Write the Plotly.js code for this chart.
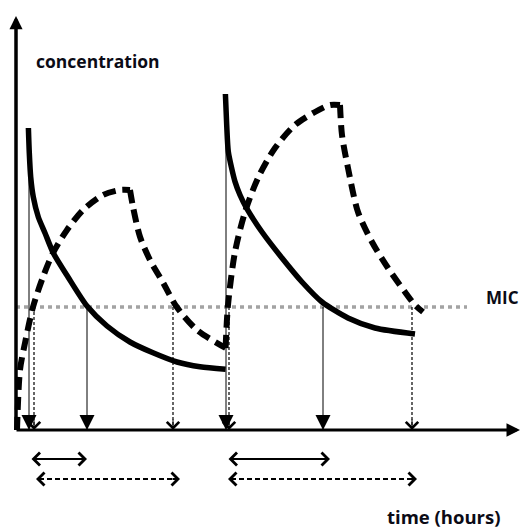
<!DOCTYPE html>
<html>
<head>
<meta charset="utf-8">
<script src="https://cdn.plot.ly/plotly-3.0.1.min.js"></script>
<style>
  html, body { margin: 0; padding: 0; background: #ffffff; }
  #chart { width: 520px; height: 531px; }
</style>
</head>
<body>
<div id="chart"></div>
<script>
// ---- data (time in hours, concentration in arbitrary units) ----
const MIC = 30.75;

// solid curve: first and second dose
const solid1Time = [0.62, 0.665, 0.735, 0.865, 1.115, 1.45, 1.865, 2.6, 3.55, 4.55, 5.7, 6.85, 8.05, 9.2, 10.48];
const solid1Conc = [75.5, 69.25, 63.25, 58.25, 53.25, 49.25, 44.25, 38.25, 31, 26, 22, 19.3, 17, 15.8, 15.2];
const solid2Time = [10.47, 10.535, 10.615, 10.785, 10.95, 11.2, 11.535, 12.3, 13.3, 14.3, 15.3, 16.6, 17.95, 19.95];
const solid2Conc = [84, 76.25, 69.6, 65.4, 62.1, 58.75, 55.4, 49.5, 43, 37, 32, 28, 25.5, 24];

// dashed curve: rise / fall segments
const dashedRise1Time = [0.05, 0.2, 0.45, 0.85, 1.35, 1.85, 2.55, 3.35, 4.35, 5.2, 5.7];
const dashedRise1Conc = [0, 15, 21.75, 30.75, 38.25, 44.25, 50, 55, 58.75, 60, 60];
const dashedFall1Time = [5.7, 5.85, 6.2, 6.7, 7.37, 8.03, 9.05, 10.48];
const dashedFall1Conc = [60, 55.8, 48.3, 42.5, 36.7, 30.8, 25, 20.5];
const dashedRise2Time = [10.48, 10.6, 10.95, 11.45, 12.1, 12.95, 13.95, 14.95, 15.7, 16.2];
const dashedRise2Conc = [20.5, 31.25, 44.5, 54.5, 63, 70.5, 76.25, 79.5, 81.25, 81.25];
const dashedFall2Time = [16.2, 16.3, 16.6, 17.1, 17.8, 18.6, 19.45, 19.95, 20.35];
const dashedFall2Conc = [81.25, 73.75, 65.5, 54.5, 47, 40.5, 34.5, 31.25, 29.5];

// MIC line extent
const micStart = 0;
const micEnd = 22.55;

// vertical drop arrows (solid thin / dotted)
const solidArrowTime = [0.65, 3.55, 10.5, 15.35];
const solidArrowTop = [75.5, 30.75, 84, 30.75];
const dottedArrowTime = [0.9, 7.85, 10.65, 19.8];

// time-above-MIC spans (double arrows under the axis)
const solidSpanStart = [0.7, 10.55];
const solidSpanEnd = [3.55, 15.7];
const dashedSpanStart = [1.0, 10.6];
const dashedSpanEnd = [8.2, 20.05];

// axis extents
const timeAxisEnd = 25.2;
const concAxisEnd = 103.5;

// labels
const yLabel = 'concentration';
const xLabel = 'time (hours)';
const micLabel = 'MIC';

// ---- drawing ----
const INK = '#000000';
const TXT = '#0b0b16';
const rowSolid = -7.25;
const rowDashed = -12.25;

const traces = [];
function line(xs, ys, opts) {
  traces.push(Object.assign({
    type: 'scatter', mode: 'lines', x: xs, y: ys,
    hoverinfo: 'skip', showlegend: false
  }, opts));
}

// MIC dotted line
line([micStart, micEnd], [MIC, MIC], {line: {color: '#a3a3a3', width: 3.5, dash: '4px,4px'}});

// thin solid verticals
solidArrowTime.forEach((t, i) => line([t, t], [solidArrowTop[i], 0], {line: {color: INK, width: 1}}));
// dotted verticals
dottedArrowTime.forEach(t => line([t, t], [MIC, 0], {line: {color: INK, width: 1.2, dash: '3px,2px'}}));

// curves
const solidStyle = {color: INK, width: 5.5, shape: 'spline', smoothing: 0.7};
const dashStyle = {color: INK, width: 6, dash: '13px,7px', shape: 'spline', smoothing: 0.8};
line(solid1Time, solid1Conc, {line: solidStyle});
line(solid2Time, solid2Conc, {line: solidStyle});
line(dashedRise1Time, dashedRise1Conc, {line: dashStyle});
line(dashedFall1Time, dashedFall1Conc, {line: dashStyle});
line(dashedRise2Time, dashedRise2Conc, {line: dashStyle});
line(dashedFall2Time, dashedFall2Conc, {line: dashStyle});

// dashed span lines
dashedSpanStart.forEach((s, i) => line([s + 0.15, dashedSpanEnd[i] - 0.15], [rowDashed, rowDashed],
  {line: {color: INK, width: 2, dash: '5px,3px'}}));

const ann = [];
function arrow(x, y, ax, ay, o) {
  ann.push(Object.assign({
    x: x, y: y, ax: ax, ay: ay, xref: 'x', yref: 'y', axref: 'x', ayref: 'y',
    text: '', showarrow: true, arrowcolor: INK, standoff: 0, startstandoff: 0
  }, o));
}

// axes with arrowheads
arrow(timeAxisEnd, 0, -0.05, 0, {arrowhead: 2, arrowwidth: 3, arrowsize: 0.9});
arrow(0, concAxisEnd, 0, -0.4, {arrowhead: 2, arrowwidth: 3.5, arrowsize: 0.75});

// arrowheads of thin solid verticals
solidArrowTime.forEach(t => arrow(t, 0, t, 4, {arrowhead: 2, arrowwidth: 1, arrowsize: 3}));
// V heads of dotted verticals
dottedArrowTime.forEach(t => arrow(t, 0, t, 3, {arrowhead: 4, arrowwidth: 1, arrowsize: 2.4}));

// solid double arrows
solidSpanStart.forEach((s, i) => arrow(solidSpanEnd[i], rowSolid, s, rowSolid,
  {arrowhead: 4, startarrowhead: 4, arrowside: 'end+start', arrowwidth: 2, arrowsize: 1.25, startarrowsize: 1.25}));
// dashed double arrow heads
dashedSpanStart.forEach((s, i) => {
  arrow(s, rowDashed, s + 0.45, rowDashed, {arrowhead: 4, arrowwidth: 2, arrowsize: 1.25});
  arrow(dashedSpanEnd[i], rowDashed, dashedSpanEnd[i] - 0.45, rowDashed, {arrowhead: 4, arrowwidth: 2, arrowsize: 1.25});
});

// text labels
const font = {family: '"Open Sans", "Liberation Sans", sans-serif', size: 17.5, color: TXT, weight: 'bold'};
ann.push({xref: 'paper', yref: 'paper', x: 34 / 520, y: 1 - 61 / 531, xanchor: 'left', yanchor: 'middle',
  text: '<b>' + yLabel + '</b>', showarrow: false, font: font});
ann.push({xref: 'paper', yref: 'paper', x: 484 / 520, y: 1 - 297 / 531, xanchor: 'left', yanchor: 'middle',
  text: '<b>' + micLabel + '</b>', showarrow: false, font: Object.assign({}, font, {size: 17})});
ann.push({xref: 'paper', yref: 'paper', x: 385 / 520, y: 1 - 516 / 531, xanchor: 'left', yanchor: 'middle',
  text: '<b>' + xLabel + '</b>', showarrow: false, font: Object.assign({}, font, {size: 18.5})});

const layout = {
  width: 520, height: 531,
  margin: {l: 0, r: 0, t: 0, b: 0, pad: 0},
  paper_bgcolor: '#ffffff', plot_bgcolor: '#ffffff',
  xaxis: {range: [-0.8, 25.2], visible: false, fixedrange: true},
  yaxis: {range: [-25.25, 107.5], visible: false, fixedrange: true},
  annotations: ann,
  showlegend: false
};

Plotly.newPlot('chart', traces, layout, {displayModeBar: false, staticPlot: true});
</script>
</body>
</html>
